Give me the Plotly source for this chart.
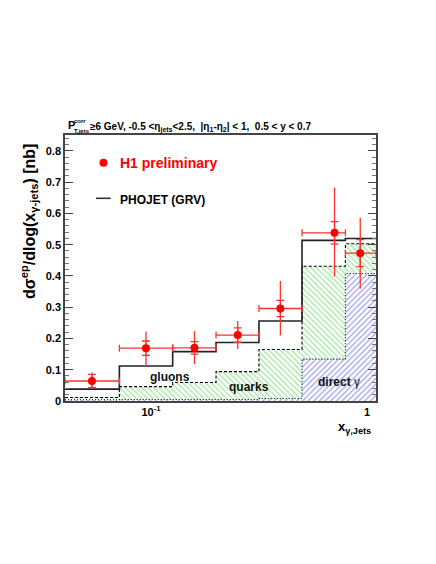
import plotly.graph_objects as go
import math

# ---------------- data ----------------
bin_edges = [0.0400, 0.0714, 0.126, 0.200, 0.316, 0.500, 0.794, 1.10]
phojet_total = [0.038, 0.112, 0.158, 0.187, 0.256, 0.514, 0.520]
phojet_quarks_direct = [0.011, 0.046, 0.059, 0.094, 0.165, 0.431, 0.503]
phojet_direct = [0.004, 0.005, 0.005, 0.005, 0.008, 0.134, 0.408]

h1_x = [0.0533, 0.0948, 0.159, 0.252, 0.397, 0.707, 0.930]
h1_y = [0.064, 0.169, 0.170, 0.211, 0.296, 0.538, 0.473]
h1_stat = [0.021, 0.023, 0.020, 0.023, 0.026, 0.036, 0.043]
h1_tot_up = [0.027, 0.053, 0.054, 0.045, 0.088, 0.145, 0.113]
h1_tot_dn = [0.024, 0.057, 0.052, 0.045, 0.086, 0.140, 0.114]

y_tick_vals = [0, 0.1, 0.2, 0.3, 0.4, 0.5, 0.6, 0.7, 0.8]
y_tick_text = ["0", "0.1", "0.2", "0.3", "0.4", "0.5", "0.6", "0.7", "0.8"]
x_tick_vals = [0.1, 1]
x_tick_text = ["10<sup>-1</sup>", "1"]

# ---------------- layout geometry ----------------
# page has an 8px body margin; the figure is placed at (8, 8)
OFF = 8
W, H = 436 - OFF, 564 - OFF
PL, PT, PR, PB = 65, 135, 376, 401      # plot frame in page pixels
ML, MT = PL - OFF, PT - OFF
PW, PH = PR - PL, PB - PT
MR, MB = W - ML - PW, H - MT - PH
FONT = "Liberation Sans, Arial, Helvetica, sans-serif"


def px(xp):
    return (xp - PL) / PW


def py(yp):
    return (PB - yp) / PH


def step(vals):
    return list(vals) + [vals[-1]]


# bin lower/upper for x error bars
lo = []
hi = []
for xv in h1_x:
    for i in range(len(bin_edges) - 1):
        if bin_edges[i] <= xv < bin_edges[i + 1]:
            lo.append(xv - bin_edges[i])
            hi.append(bin_edges[i + 1] - xv)
            break

fig = go.Figure()

# direct gamma (blue hatched)
fig.add_trace(go.Scatter(
    x=bin_edges, y=step(phojet_direct), mode="lines", line_shape="hv",
    line=dict(color="black", width=1.1, dash="1px,2px"),
    fill="tozeroy", fillcolor="rgba(0,0,0,0)",
    fillpattern=dict(shape="/", fgcolor="rgb(60,60,225)", bgcolor="white",
                     size=4, solidity=0.3),
    showlegend=False, hoverinfo="skip"))

# quarks (green hatched)
fig.add_trace(go.Scatter(
    x=bin_edges, y=step(phojet_quarks_direct), mode="lines", line_shape="hv",
    line=dict(color="black", width=1.1, dash="3px,2px"),
    fill="tonexty", fillcolor="rgba(0,0,0,0)",
    fillpattern=dict(shape="\\", fgcolor="rgb(60,205,60)", bgcolor="white",
                     size=4, solidity=0.3),
    showlegend=False, hoverinfo="skip"))

# PHOJET total
fig.add_trace(go.Scatter(
    x=bin_edges, y=step(phojet_total), mode="lines", line_shape="hv",
    line=dict(color="#222222", width=1.6),
    showlegend=False, hoverinfo="skip"))

# H1 stat error ticks
fig.add_trace(go.Scatter(
    x=h1_x, y=h1_y, mode="markers", marker=dict(size=1, color="rgba(0,0,0,0)"),
    error_y=dict(type="data", array=h1_stat, color="rgb(255,50,50)",
                 thickness=1.3, width=4),
    showlegend=False, hoverinfo="skip"))

# H1 data points with total errors
fig.add_trace(go.Scatter(
    x=h1_x, y=h1_y, mode="markers",
    marker=dict(size=8, color="red", symbol="circle"),
    error_y=dict(type="data", symmetric=False, array=h1_tot_up,
                 arrayminus=h1_tot_dn, color="rgb(255,50,50)",
                 thickness=1.3, width=0),
    error_x=dict(type="data", symmetric=False, array=hi, arrayminus=lo,
                 color="rgb(255,50,50)", thickness=1.3, width=3.5),
    showlegend=False, hoverinfo="skip"))

annotations = []
shapes = []


def note(text, xp, yp, size, color="black", xa="center", ya="middle", **kw):
    d = dict(text=text, x=px(xp), y=py(yp), xref="paper", yref="paper",
             xanchor=xa, yanchor=ya, showarrow=False,
             font=dict(family=FONT, size=size, color=color))
    d.update(kw)
    annotations.append(d)


# title
note("<b>P</b>", 65.5, 125.5, 11, xa="left")
note("<b>corr</b>", 72, 120.5, 6, xa="left")
note("<b>T,jets</b>", 72, 131, 6, xa="left")
note("<b>≥6 GeV, -0.5 &lt;η<sub>jets</sub>&lt;2.5,\u00a0 |η<sub>1</sub>-η<sub>2</sub>| &lt; 1,\u00a0 0.5 &lt; y &lt; 0.7</b>",
     87.5, 127, 10, xa="left")

# y axis title
note("<b>dσ<sup>ep</sup>/dlog(x<sub>γ-jets</sub>) [nb]</b>", 29, 222, 16, textangle=-90)

# x axis title
note("<b>x<sub>γ,Jets</sub></b>", 373, 427, 13, xa="right")

# region labels
note("<b>gluons</b>", 170, 377, 12, color="#111")
note("<b>quarks</b>", 249, 387, 12, color="#111")
note("<b>direct</b> γ", 339, 382, 12, color="#111")

# legend
shapes.append(dict(type="circle", xref="paper", yref="paper",
                   x0=px(99.5), x1=px(107.5), y0=py(166.7), y1=py(158.7),
                   fillcolor="red", line=dict(color="red", width=0)))
note("<b>H1 preliminary</b>", 118, 162.7, 14, color="red", xa="left")
shapes.append(dict(type="line", xref="paper", yref="paper",
                   x0=px(96), x1=px(110.7), y0=py(198.3), y1=py(198.3),
                   line=dict(color="#333", width=1.6)))
note("<b>PHOJET (GRV)</b>", 118, 199.5, 12, xa="left")

fig.update_layout(
    width=W, height=H,
    margin=dict(l=ML, r=MR, t=MT, b=MB, pad=0),
    paper_bgcolor="white", plot_bgcolor="white",
    annotations=annotations, shapes=shapes,
    font=dict(family=FONT),
    xaxis=dict(
        type="log",
        range=[math.log10(bin_edges[0]), math.log10(bin_edges[-1])],
        tickvals=x_tick_vals, ticktext=x_tick_text,
        ticks="", showgrid=False, zeroline=False,
        showline=True, linecolor="#444", linewidth=1.5, mirror=True,
        tickfont=dict(family=FONT, size=11, color="black", weight="bold"),
    ),
    yaxis=dict(
        range=[0, 0.851],
        tickvals=y_tick_vals, ticktext=y_tick_text,
        ticks="inside", ticklen=8, tickcolor="#444", tickwidth=1,
        minor=dict(dtick=0.02, ticks="inside", ticklen=4, tickcolor="#777", tickwidth=1),
        showgrid=False, zeroline=False,
        showline=True, linecolor="#444", linewidth=1.5, mirror="ticks",
        tickfont=dict(family=FONT, size=11, color="black", weight="bold"),
    ),
)

fig.write_html("out.html")
